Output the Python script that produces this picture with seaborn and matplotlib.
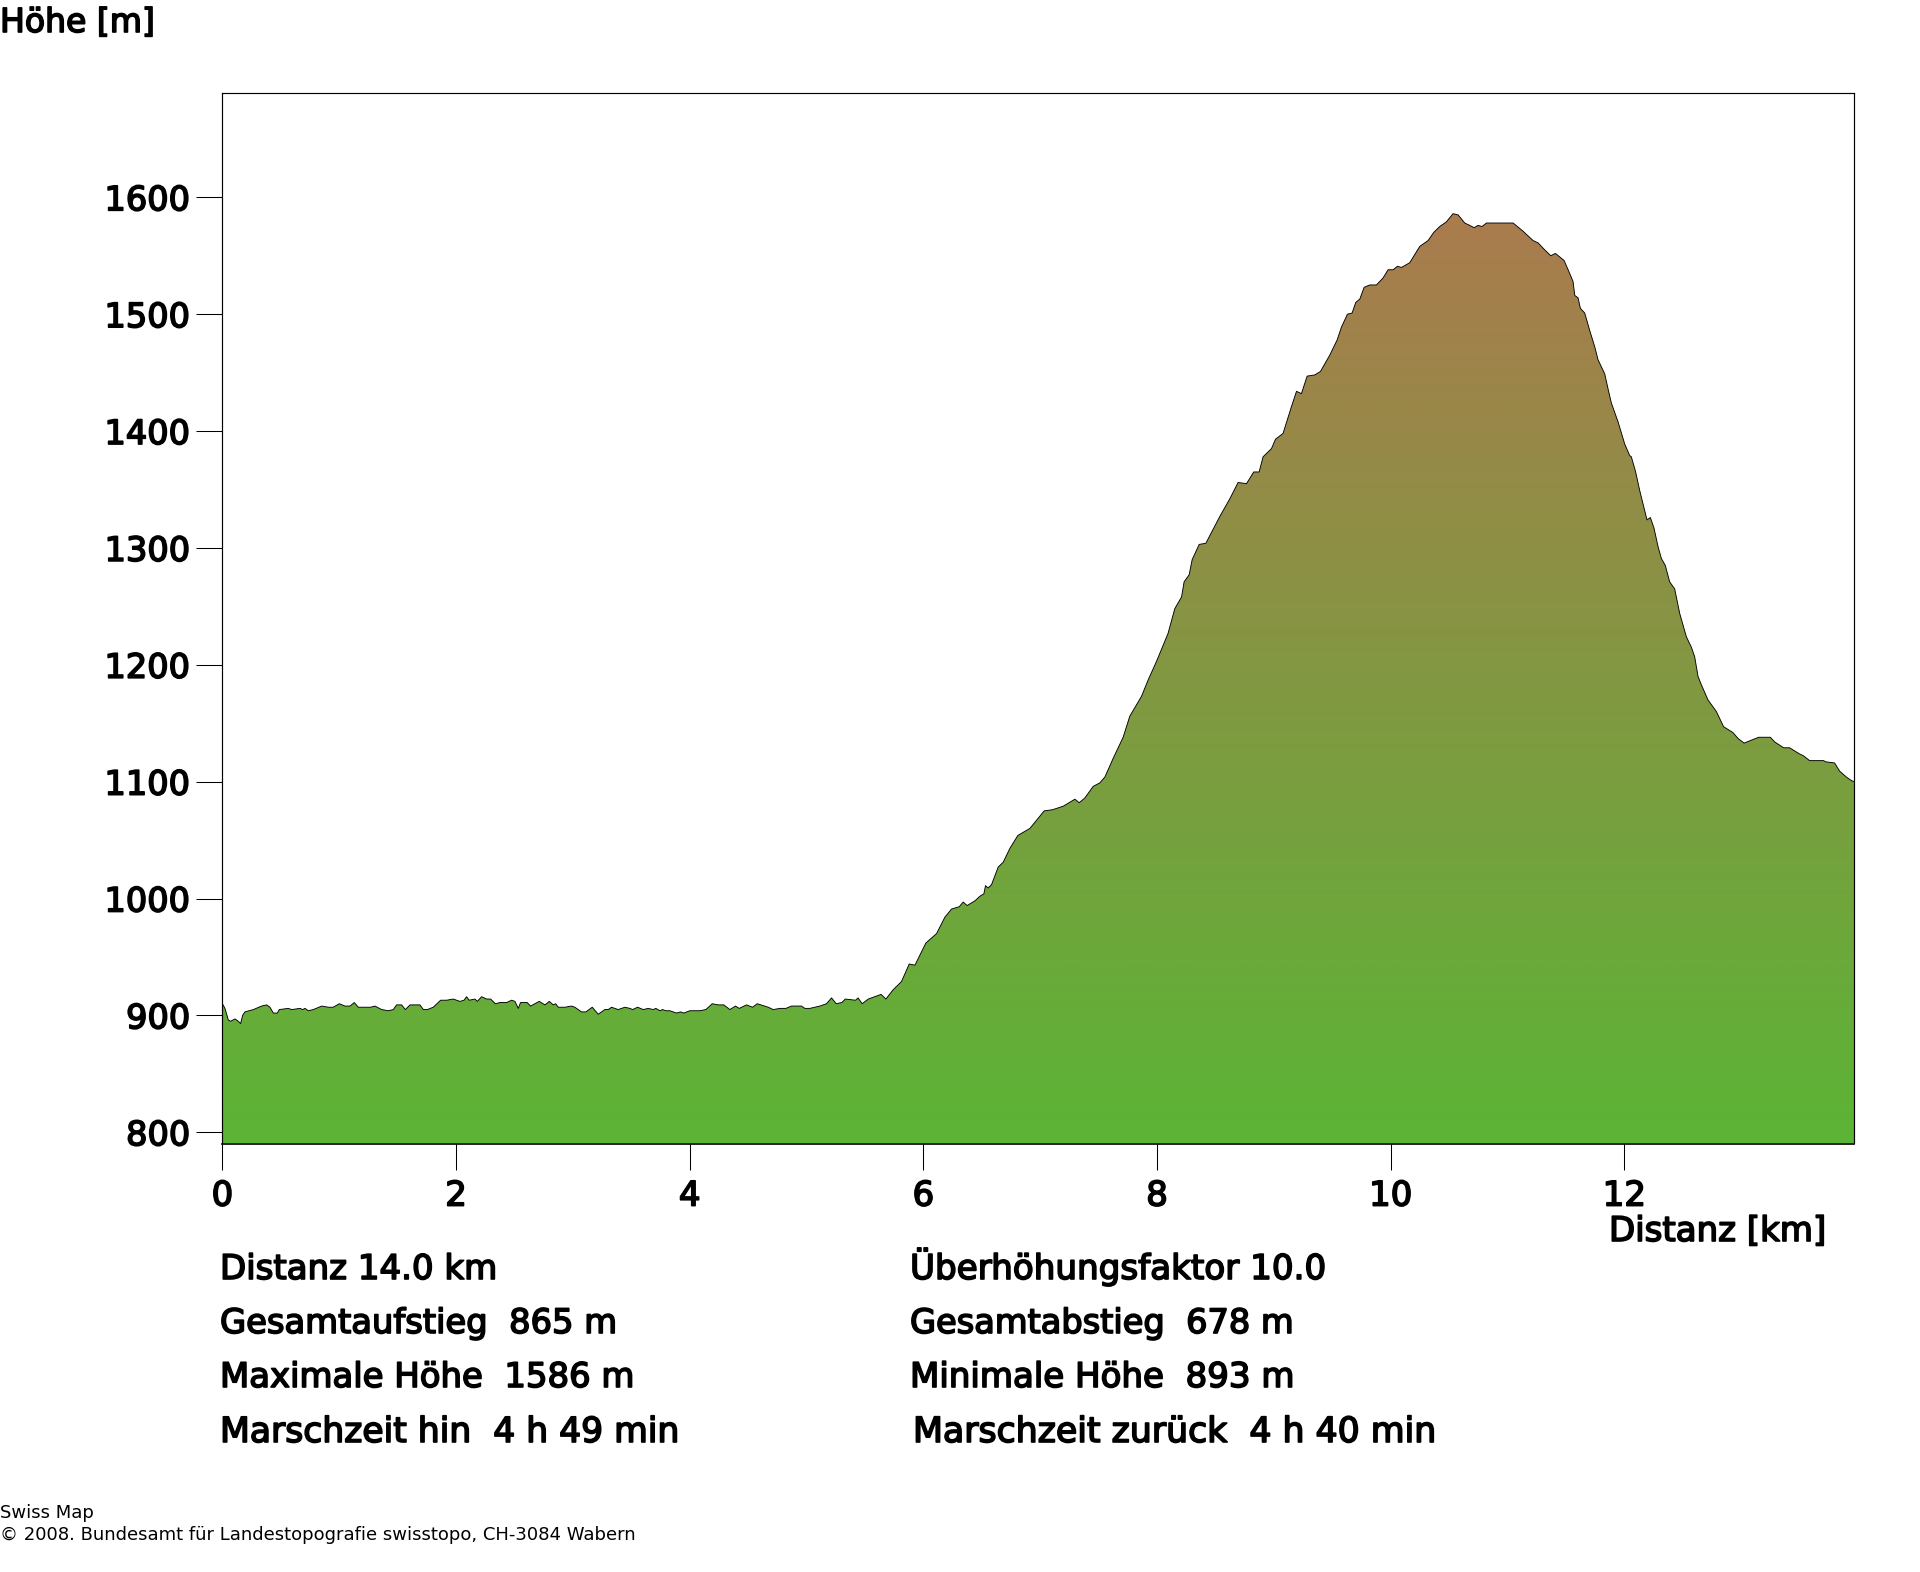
import numpy as np
import pandas as pd
import matplotlib
matplotlib.use("Agg")
import matplotlib.pyplot as plt
import matplotlib.patheffects as pe
from matplotlib.colors import LinearSegmentedColormap
import seaborn as sns

# Profile: distance [km], elevation [m]
distance_km = [
    0.00, 0.022, 0.051, 0.071, 0.108, 0.136, 0.156, 0.173, 0.193, 0.265, 0.336, 0.379, 0.407, 0.436, 0.470, 0.487,
    0.564, 0.593, 0.664, 0.687, 0.707, 0.735, 0.778, 0.850, 0.907, 0.949, 1.001, 1.049, 1.092, 1.129, 1.163, 1.249,
    1.269, 1.306, 1.363, 1.420, 1.463, 1.491, 1.534, 1.566, 1.606, 1.691, 1.720, 1.754, 1.805, 1.868, 1.919, 1.976,
    2.033, 2.068, 2.090, 2.113, 2.162, 2.182, 2.219, 2.262, 2.296, 2.336, 2.376, 2.433, 2.475, 2.504, 2.533,
    2.552, 2.609, 2.638, 2.675, 2.712, 2.761, 2.798, 2.832, 2.852, 2.875, 2.932, 2.989, 3.017, 3.074, 3.111, 3.166,
    3.217, 3.274, 3.303, 3.331, 3.388, 3.445, 3.488, 3.511, 3.554, 3.602, 3.645, 3.688, 3.710, 3.745, 3.768, 3.796,
    3.830, 3.887, 3.922, 3.950, 4.001, 4.073, 4.087, 4.138, 4.193, 4.244, 4.292, 4.344, 4.392, 4.424, 4.486, 4.538,
    4.578, 4.672, 4.715, 4.772, 4.823, 4.872, 4.957, 4.986, 5.028,
    5.114, 5.171, 5.214, 5.254, 5.302, 5.332, 5.420, 5.441, 5.476, 5.529, 5.638, 5.679,
    5.742, 5.813, 5.879, 5.928, 6.022, 6.113, 6.184, 6.241, 6.307, 6.341, 6.375, 6.441, 6.484, 6.518, 6.532, 6.555,
    6.584, 6.641, 6.683, 6.741, 6.809, 6.912, 6.969, 7.034, 7.106, 7.197, 7.297, 7.334, 7.382, 7.454, 7.511, 7.554,
    7.625, 7.710, 7.767, 7.867, 7.924, 7.996, 8.095, 8.152, 8.210, 8.232, 8.275, 8.301, 8.361, 8.418, 8.538,
    8.623, 8.694, 8.766, 8.828, 8.874, 8.908, 8.980, 9.014, 9.079, 9.151, 9.194, 9.236, 9.285, 9.350, 9.399, 9.479,
    9.542, 9.579, 9.630, 9.670, 9.701, 9.736, 9.773, 9.821, 9.878, 9.935, 9.978, 10.021, 10.058, 10.092, 10.163,
    10.249, 10.320, 10.369, 10.420, 10.477, 10.534, 10.577, 10.634, 10.677, 10.714, 10.748, 10.782, 10.820, 10.862,
    10.897, 10.934, 10.991, 11.048, 11.133, 11.219, 11.262, 11.319, 11.370, 11.410, 11.484, 11.519, 11.561, 11.576,
    11.604, 11.624, 11.661, 11.704, 11.747, 11.775, 11.832, 11.861, 11.889, 11.946, 12.003, 12.046,
    12.060, 12.097, 12.132, 12.174, 12.194, 12.223, 12.254, 12.289, 12.317, 12.351, 12.388, 12.431, 12.474, 12.531,
    12.574, 12.602, 12.631, 12.659, 12.716, 12.788, 12.850, 12.930, 12.973, 13.025, 13.150, 13.250, 13.287, 13.364,
    13.415, 13.495, 13.535, 13.586, 13.706, 13.723, 13.800, 13.843, 13.900, 13.943, 13.966,
]
elevation_m = [
    910, 906, 896, 895, 897, 895, 893, 900, 903, 905, 908, 909, 907, 902, 902, 905,
    906, 905, 906, 905, 906, 904, 905, 908, 907, 907, 910, 908, 908, 911, 907, 907,
    907, 908, 905, 904, 905, 909, 909, 905, 909, 909, 905, 905, 907, 913, 913, 914,
    912, 913, 916, 913, 914, 912, 916, 914, 914, 910, 911, 911, 913, 912, 906,
    911, 911, 908, 910, 912, 909, 912, 909, 910, 907, 907, 908, 907, 903, 903, 907,
    901, 905, 905, 907, 905, 907, 906, 905, 907, 905, 906, 905, 906, 904, 905, 904,
    904, 902, 903, 902, 904, 904, 904, 905, 910, 909, 909, 905, 908, 906, 909, 907,
    910, 907, 905, 906, 906, 908, 908, 906, 906,
    908, 910, 915, 910, 911, 914, 913, 915, 910, 914, 918, 914,
    922, 929, 944, 943, 962, 970, 984, 991, 993, 997, 994, 998, 1002, 1004, 1011, 1009,
    1012, 1027, 1031, 1043, 1054, 1060, 1067, 1075, 1076, 1079, 1085, 1082, 1086, 1096, 1099, 1104,
    1120, 1138, 1156, 1173, 1187, 1203, 1227, 1248, 1258, 1271, 1277, 1290, 1303, 1304, 1327,
    1342, 1356, 1355, 1365, 1365, 1378, 1385, 1393, 1398, 1421, 1434, 1432, 1447, 1448, 1451, 1465,
    1478, 1489, 1500, 1501, 1510, 1513, 1523, 1525, 1525, 1531, 1538, 1538, 1541, 1540, 1544,
    1558, 1563, 1570, 1575, 1579, 1586, 1585, 1578, 1576, 1574, 1576, 1575, 1578, 1578,
    1578, 1578, 1578, 1578, 1571, 1563, 1561, 1555, 1550, 1552, 1546, 1538, 1528, 1516,
    1514, 1505, 1501, 1486, 1472, 1461, 1449, 1436, 1424, 1408, 1389, 1379,
    1378, 1365, 1349, 1332, 1324, 1326, 1317, 1301, 1291, 1285, 1271, 1265, 1244, 1224,
    1215, 1207, 1190, 1183, 1170, 1160, 1147, 1142, 1137, 1133, 1138, 1138, 1134, 1129,
    1129, 1124, 1122, 1118, 1118, 1117, 1116, 1109, 1104, 1101, 1100,
]

y_ticks = [800, 900, 1000, 1100, 1200, 1300, 1400, 1500, 1600]
x_ticks = [0, 2, 4, 6, 8, 10, 12]

left_stats = ["Distanz 14.0 km", "Gesamtaufstieg  865 m", "Maximale Höhe  1586 m", "Marschzeit hin  4 h 49 min"]
right_stats = ["Überhöhungsfaktor 10.0", "Gesamtabstieg  678 m", "Minimale Höhe  893 m", "Marschzeit zurück  4 h 40 min"]
stat_baselines = [1279, 1333, 1387, 1442]
right_x = [910, 910, 910, 913]
# font sizes tuned per row to get the same text widths
left_sizes = [24.5, 24.3, 24.4, 24.9]
right_sizes = [24.6, 24.2, 24.5, 25.0]

W, H = 1920, 1572
sns.set_theme(style="ticks", rc={"font.family": "DejaVu Sans", "text.color": "black"})

fig = plt.figure(figsize=(W / 100, H / 100), dpi=100, facecolor="white")
ax = fig.add_axes([222.4 / W, 1 - 1143.5 / H, (1854 - 222.4) / W, (1143.5 - 93.3) / H])

df = pd.DataFrame({"km": distance_km, "m": elevation_m})
ymin, ymax = 790.4, 1689
xmax = 13.966

# height coloured fill: green valley to brown summit, runs under the bottom spine
cmap = LinearSegmentedColormap.from_list("relief", ["#5AB535", "#AA7B4E"])
patch = ax.fill_between(df["km"], df["m"], ymin - 10, color="none", linewidth=0)
grad = np.linspace(0, 1, 512).reshape(-1, 1)
im = ax.imshow(grad, origin="lower", aspect="auto", cmap=cmap, extent=[0, xmax, ymin - 10, 1586],
               interpolation="bilinear", zorder=1)
im.set_clip_path(patch.get_paths()[0], transform=ax.transData)

sns.lineplot(data=df, x="km", y="m", color="black", linewidth=0.65, estimator=None, sort=False, ax=ax, zorder=2)

ax.set_xlim(0, xmax)
ax.set_ylim(ymin, ymax)
ax.set_xlabel("")
ax.set_ylabel("")
ax.set_xticks(x_ticks)
ax.set_yticks(y_ticks)
ax.tick_params(axis="x", length=19, width=0.75, pad=7, labelsize=24.5, color="black", labelcolor="black")
ax.tick_params(axis="y", length=19, width=0.75, pad=4, labelsize=24.2, color="black", labelcolor="black")
for sp in ax.spines.values():
    sp.set_visible(True)
    sp.set_linewidth(0.85)
    sp.set_color("black")
    sp.set_zorder(3)
ax.spines["bottom"].set_linewidth(1.2)

bold = [pe.withStroke(linewidth=1.2, foreground="black")]
for lab in ax.get_xticklabels() + ax.get_yticklabels():
    lab.set_path_effects(bold)


def put(x, y, s, size=24.5, heavy=True):
    t = fig.text(x / W, 1 - y / H, s, fontsize=size, ha="left", va="baseline", color="black")
    if heavy:
        t.set_path_effects(bold)
    return t


put(0, 32, "Höhe [m]", size=23.8)
put(1609, 1241, "Distanz [km]")
for s, y, fs in zip(left_stats, stat_baselines, left_sizes):
    put(220, y, s, size=fs)
for s, x, y, fs in zip(right_stats, right_x, stat_baselines, right_sizes):
    put(x, y, s, size=fs)

put(0, 1518, "Swiss Map", size=13.0, heavy=False)
put(0, 1540, "© 2008. Bundesamt für Landestopografie swisstopo, CH-3084 Wabern", size=13.0, heavy=False)

fig.savefig("out.png", dpi=100)
